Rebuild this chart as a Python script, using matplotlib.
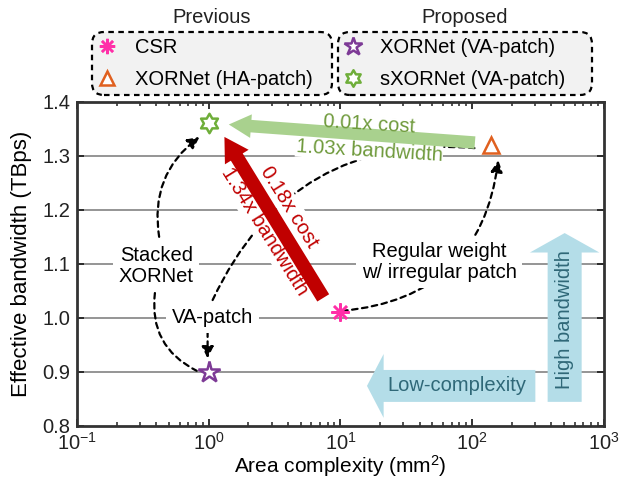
import numpy as np
import matplotlib.pyplot as plt
from matplotlib.patches import FancyArrowPatch
from matplotlib.path import Path

plt.rcParams['font.family'] = ['Liberation Sans', 'DejaVu Sans']
plt.rcParams['mathtext.fontset'] = 'custom'
plt.rcParams['mathtext.rm'] = 'Liberation Sans'
plt.rcParams['mathtext.it'] = 'Liberation Sans:italic'
plt.rcParams['mathtext.bf'] = 'Liberation Sans:bold'

#------------- data -------------
names = ['CSR', 'XORNet (HA-patch)', 'XORNet (VA-patch)', 'sXORNet (VA-patch)']
area = [10, 140, 1.0, 1.0]            # mm^2
bandwidth = [1.01, 1.32, 0.90, 1.36]  # TBps
colors = ['#ff2fa8', '#e0601f', '#7d3a96', '#6fae3a']

yticks = [0.8, 0.9, 1.0, 1.1, 1.2, 1.3, 1.4]

# hexagram marker (two overlapping triangles)
ang = np.pi / 2 + np.arange(12) * np.pi / 6
rad = np.where(np.arange(12) % 2 == 0, 1.0, 1 / np.sqrt(3))
hex_verts = np.column_stack([rad * np.cos(ang), rad * np.sin(ang)])
hexagram = Path(np.vstack([hex_verts, hex_verts[:1]]), closed=True)

fs = 14.5
fig = plt.figure(figsize=(6.19, 4.78), dpi=100)
ax = fig.add_axes([0.1245, 0.109, 0.851, 0.678])

ax.set_xscale('log')
ax.set_xlim(0.1, 1000)
ax.set_ylim(0.8, 1.4)
ax.set_yticks(yticks)
ax.set_yticklabels([f'{v:.1f}' for v in yticks])
for v in yticks[1:-1]:
    ax.axhline(v, color='#8c8c8c', lw=1.3, zorder=0.5)

ax.tick_params(which='both', direction='in', top=True, right=True,
               labelsize=fs, colors='#222222')
ax.tick_params(which='major', length=5, width=1.3, pad=5)
ax.tick_params(axis='x', which='major', pad=4)
ax.tick_params(which='minor', length=3, width=1.1)
for s in ax.spines.values():
    s.set_linewidth(2)
    s.set_color('#333333')
ax.set_xlabel('Area complexity (mm$^2$)', fontsize=15, labelpad=-0.5)
ax.set_ylabel('Effective bandwidth (TBps)', fontsize=16, labelpad=7)

#------------- points -------------
kw = dict(ls='none', mew=1.8, zorder=6)
h_csr, = ax.plot(area[0], bandwidth[0], marker=(8, 2, 0), ms=13,
                 color=colors[0], label=names[0], **kw)
h_ha, = ax.plot(area[1], bandwidth[1], marker='^', ms=12, mfc='white',
                color=colors[1], label=names[1], **kw)
h_va, = ax.plot(area[2], bandwidth[2], marker='*', ms=16, mfc='white',
                color=colors[2], label=names[2], **kw)
h_sx, = ax.plot(area[3], bandwidth[3], marker=hexagram, ms=14, mfc='white',
                color=colors[3], label=names[3], **kw)

#------------- big arrows -------------
def block_arrow(p0, p1, color, tw, hw, hl, z=4):
    a = FancyArrowPatch(p0, p1, arrowstyle=f'simple,head_length={hl},head_width={hw},tail_width={tw}',
                        mutation_scale=1, shrinkA=0, shrinkB=0, color=color, lw=0, zorder=z)
    ax.add_patch(a)

block_arrow((105, 1.3245), (1.42, 1.358), '#a9d18e', 9, 17, 16)
block_arrow((7.4, 1.037), (1.315, 1.335), '#c00000', 10, 20, 17)
block_arrow((302, 0.874), (15.9, 0.874), '#b4dde8', 23, 46, 12)
block_arrow((504, 0.8445), (504, 1.157), '#b4dde8', 24.5, 50, 14)

ax.text(16.5, 1.358, '0.01x cost', color='#6f9a3c', fontsize=fs, rotation=-3.5,
        ha='center', va='center', zorder=5)
ax.text(16.5, 1.309, '1.03x bandwidth', color='#6f9a3c', fontsize=fs, rotation=-3.5,
        ha='center', va='center', zorder=3,
        bbox=dict(facecolor='white', edgecolor='none', pad=0.5))
wbox = dict(facecolor='white', edgecolor='none', pad=1.5)
ax.text(4.08, 1.205, '0.18x cost', color='#c00000', fontsize=fs, rotation=-58,
        ha='center', va='center', rotation_mode='anchor', bbox=wbox, zorder=3)
ax.text(2.64, 1.161, '1.34x bandwidth', color='#c00000', fontsize=fs, rotation=-58,
        ha='center', va='center', rotation_mode='anchor', bbox=wbox, zorder=3)
ax.text(76.6, 0.874, 'Low-complexity', color='#2f6878', fontsize=fs,
        ha='center', va='center', zorder=5)
ax.text(504, 0.996, 'High bandwidth', color='#2f6878', fontsize=fs, rotation=90,
        ha='center', va='center', zorder=5)

#------------- dashed callouts -------------
def dashed(p0, p1, rad, head=True):
    style = '-|>,head_length=0.5,head_width=0.25' if head else '-'
    a = FancyArrowPatch(p0, p1, arrowstyle=style, connectionstyle=f'arc3,rad={rad}',
                        mutation_scale=14, shrinkA=0, shrinkB=0, color='black',
                        lw=1.6, ls=(0, (2.5, 2)), zorder=2)
    ax.add_patch(a)

dashed((0.42, 1.15), (0.85, 1.335), -0.3)
dashed((0.39, 1.046), (0.81, 0.902), 0.35, head=False)
dashed((0.98, 0.975), (0.98, 0.925), 0)
dashed((1.07, 1.033), (108, 1.314), -0.35, head=False)
dashed((10.3, 1.013), (158, 1.292), 0.4)

ax.text(0.40, 1.096, 'Stacked\nXORNet', fontsize=fs, ha='center', va='center',
        linespacing=1.15, bbox=dict(facecolor='white', edgecolor='none', pad=4), zorder=3)
ax.text(1.07, 1.0, 'VA-patch', fontsize=fs, ha='center', va='center',
        bbox=dict(facecolor='white', edgecolor='none', pad=4), zorder=3)
ax.text(56, 1.103, 'Regular weight\nw/ irregular patch', fontsize=fs, ha='center',
        va='center', linespacing=1.15,
        bbox=dict(facecolor='white', edgecolor='none', pad=4), zorder=3)

#------------- legends -------------
def box_legend(handles, rect, title, tx):
    leg = fig.legend(handles=handles, loc='upper left', bbox_to_anchor=rect,
                     mode='expand', fontsize=fs, frameon=True, fancybox=True,
                     handlelength=0.9, handletextpad=0.9, labelspacing=0.62,
                     borderpad=0.3, borderaxespad=0, markerscale=0.85)
    fr = leg.get_frame()
    fr.set_facecolor('#f2f2f2')
    fr.set_alpha(1)
    fr.set_edgecolor('black')
    fr.set_linestyle((0, (2.5, 2)))
    fr.set_linewidth(1.6)
    fr.set_boxstyle('round,pad=0,rounding_size=0.6')
    fig.text(tx, 0.963, title, fontsize=fs, ha='center', va='center', color='#222222')
    return leg

box_legend([h_csr, h_ha], (0.149, 0.797, 0.387, 0.136), 'Previous', 0.342)
box_legend([h_va, h_sx], (0.546, 0.797, 0.410, 0.136), 'Proposed', 0.751)

fig.savefig('out.png', dpi=100)
